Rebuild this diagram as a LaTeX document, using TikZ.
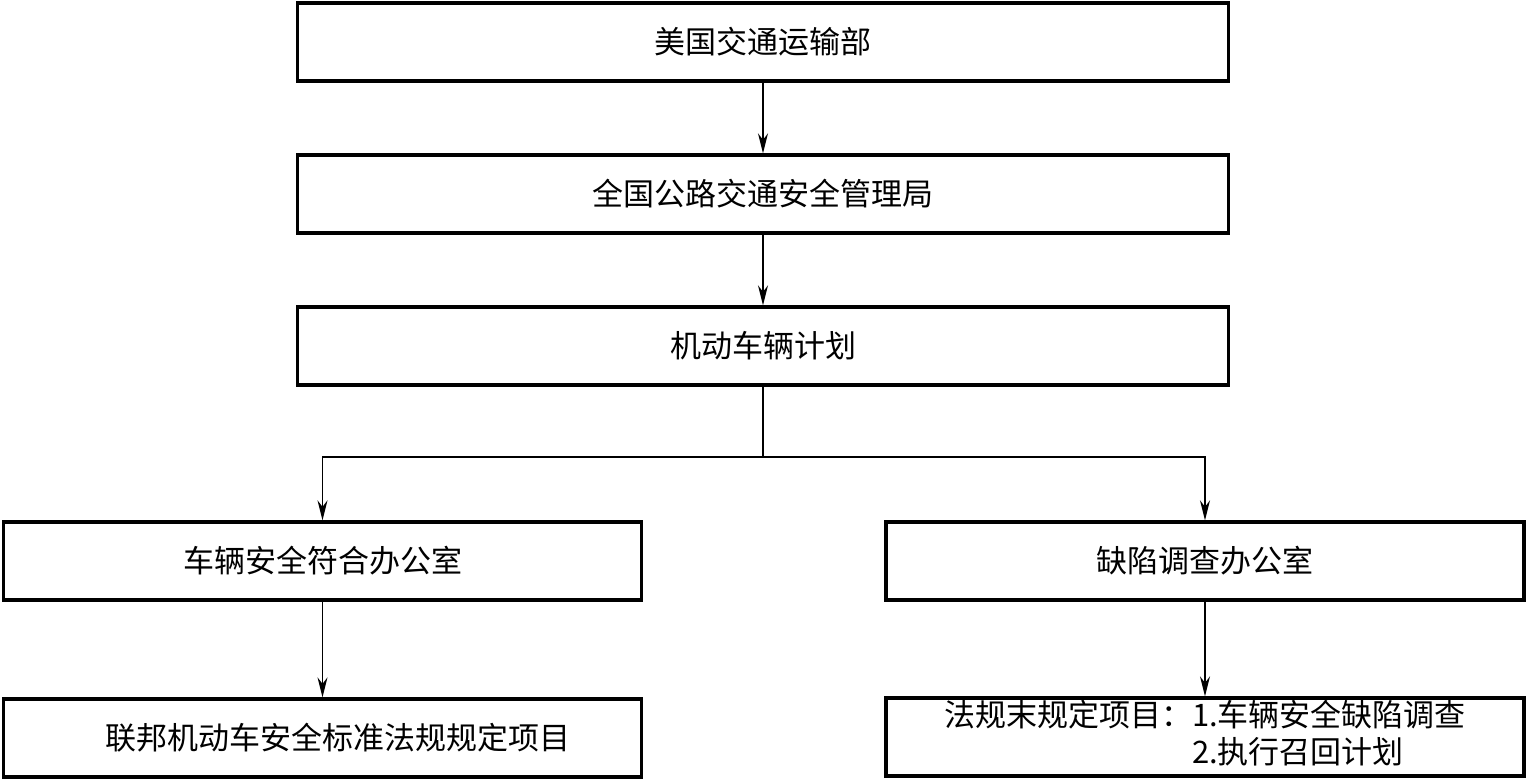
\documentclass[tikz,border=0pt]{standalone}
\usepackage{fontspec}
\newfontfamily\cjk{Noto Sans CJK SC}
\usetikzlibrary{arrows.meta}
\begin{document}
\begin{tikzpicture}[x=1pt,y=1pt,
  box/.style={draw,line width=3.3pt,minimum height=78pt,inner sep=0pt,
    font=\cjk\fontsize{31}{37}\selectfont},
  wide/.style={box,minimum width=931pt},
  half/.style={box,minimum width=638pt},
  arr/.style={line width=1.5pt,-{Stealth[length=20pt,width=10pt]}},
  ln/.style={line width=1.5pt}]
\useasboundingbox (0,0) rectangle (1528,780);
\node[wide] (b1) at (763,738) {美国交通运输部};
\node[wide] (b2) at (763,586) {全国公路交通安全管理局};
\node[wide] (b3) at (763,434) {机动车辆计划};
\node[half] (b4) at (322.5,219) {车辆安全符合办公室};
\node[half] (b5) at (1205,219) {缺陷调查办公室};
\node[half] (b6) at (322.5,42) {\hspace{30pt}联邦机动车安全标准法规规定项目};
\node[half] (b7) at (1205,43) {\begin{tabular}{@{}l@{}l@{}}法规末规定项目：&1.车辆安全缺陷调查\\&2.执行召回计划\end{tabular}};
\coordinate (j) at (763,323);
\draw[arr] (b1.south) -- (b2.north);
\draw[arr] (b2.south) -- (b3.north);
\draw[ln] (b3.south) -- (j);
\draw[arr] (j) -| (b4.north);
\draw[arr] (j) -| (b5.north);
\draw[arr] (b4.south) -- (b6.north);
\draw[arr] (b5.south) -- (b7.north);
\end{tikzpicture}
\end{document}
